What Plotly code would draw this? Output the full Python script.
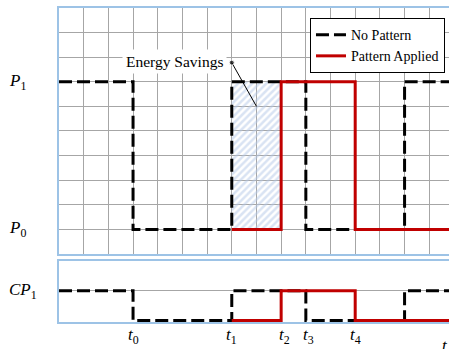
import plotly.graph_objects as go

# Power levels (top panel) and cost-of-power level (bottom panel)
P0, P1 = 1, 7
CP_LOW, CP1 = 0, 1

# Step breakpoints along time (grid units)
t_end = 15.8
no_pattern_t = [0, 3, 7, 10, 14, t_end]
no_pattern_p = [P1, P0, P1, P0, P1, P1]
no_pattern_cp = [CP1, CP_LOW, CP1, CP_LOW, CP1, CP1]

applied_t = [7, 9, 12, t_end]
applied_p = [P0, P1, P0, P0]
applied_cp = [CP_LOW, CP1, CP_LOW, CP_LOW]

# Savings region: between t1 and t2, from P0 up to P1
savings_t = [7, 9]
savings_p = [P0, P1]

# Time labels
time_pos = [3, 7, 9.15, 10.1, 12]
time_sub = ["0", "1", "2", "3", "4"]

BLUE = "#9dc3e6"
GRID = "#a6a6a6"
RED = "#c00000"
DASH = "13px,5px"
SERIF = "Liberation Serif"

fig = go.Figure()

# Hatched savings area
fig.add_trace(go.Scatter(
    x=[savings_t[0], savings_t[1], savings_t[1], savings_t[0], savings_t[0]],
    y=[savings_p[0], savings_p[0], savings_p[1], savings_p[1], savings_p[0]],
    mode="lines", line=dict(width=0), fill="toself",
    fillcolor="rgba(255,255,255,0)",
    fillpattern=dict(shape="/", fgcolor="#b4c7e7", bgcolor="rgba(255,255,255,0)",
                     size=5, solidity=0.5),
    showlegend=False, hoverinfo="skip", xaxis="x", yaxis="y"))

# No Pattern (dashed black)
fig.add_trace(go.Scatter(
    x=no_pattern_t, y=no_pattern_p, mode="lines", line_shape="hv",
    line=dict(color="black", width=3, dash=DASH), name="No Pattern",
    xaxis="x", yaxis="y"))
fig.add_trace(go.Scatter(
    x=no_pattern_t, y=no_pattern_cp, mode="lines", line_shape="hv",
    line=dict(color="black", width=3, dash=DASH), showlegend=False,
    xaxis="x2", yaxis="y2"))

# Pattern Applied (solid red)
fig.add_trace(go.Scatter(
    x=applied_t, y=applied_p, mode="lines", line_shape="hv",
    line=dict(color=RED, width=3), name="Pattern Applied",
    xaxis="x", yaxis="y"))
fig.add_trace(go.Scatter(
    x=applied_t, y=applied_cp, mode="lines", line_shape="hv",
    line=dict(color=RED, width=3), showlegend=False,
    xaxis="x2", yaxis="y2"))

# Leader line for the callout
fig.add_trace(go.Scatter(
    x=[7, 8], y=[7.78, 6], mode="lines+markers",
    line=dict(color="black", width=1), marker=dict(color="black", size=[5, 0]),
    showlegend=False, hoverinfo="skip", xaxis="x", yaxis="y"))

annotations = [
    dict(text="Energy Savings", x=4.66, y=7.82, xref="x", yref="y",
         showarrow=False, bgcolor="white", borderpad=3,
         font=dict(family=SERIF, size=15.5, color="black")),
]
for lbl, yv, yref in [("<i>P</i><sub>1</sub>", P1, "y"),
                      ("<i>P</i><sub>0</sub>", P0, "y"),
                      ("<i>CP</i><sub>1</sub>", CP1, "y2")]:
    annotations.append(dict(text=lbl, x=0, xref="paper", xshift=-52, xanchor="left",
                            y=yv, yref=yref, showarrow=False,
                            font=dict(family=SERIF, size=17, color="black")))
for pos, sub in zip(time_pos, time_sub):
    annotations.append(dict(text="<i>t</i><sub>" + sub + "</sub>",
                            x=pos, xref="x2", y=0, yref="paper",
                            yanchor="top", yshift=-1, showarrow=False,
                            font=dict(family=SERIF, size=17, color="black")))
annotations.append(dict(text="<i>t</i>", x=15.65, xref="x2", y=0, yref="paper",
                        yanchor="top", yshift=-12, showarrow=False,
                        font=dict(family=SERIF, size=17, color="black")))

axis_common = dict(showticklabels=False, ticks="", zeroline=False,
                   linecolor=BLUE, linewidth=1.5)

fig.update_layout(
    width=449, height=349,
    margin=dict(l=59, r=0, t=8, b=27),
    paper_bgcolor="white", plot_bgcolor="white",
    xaxis=dict(domain=[0, 1], range=[0, t_end], dtick=1, showgrid=True,
               gridcolor=GRID, gridwidth=1, showline=True, mirror=True,
               anchor="y", **axis_common),
    yaxis=dict(domain=[0.2166, 1], range=[0, 10], dtick=1, showgrid=True,
               gridcolor=GRID, gridwidth=1, showline=True, anchor="x",
               **axis_common),
    xaxis2=dict(domain=[0, 1], range=[0, t_end], showgrid=False,
                showline=True, mirror=True, anchor="y2", **axis_common),
    yaxis2=dict(domain=[0, 0.1943], range=[-0.05, 2], tickvals=[CP1],
                showgrid=True, gridcolor=GRID, gridwidth=1, showline=True,
                anchor="x2", **axis_common),
    legend=dict(x=0.9897, y=0.968, xanchor="right", yanchor="top",
                bgcolor="white", bordercolor="black", borderwidth=1,
                font=dict(family=SERIF, size=14, color="black"),
                tracegroupgap=0, itemwidth=30),
    annotations=annotations,
    showlegend=True,
)

fig.write_html("out.html")
